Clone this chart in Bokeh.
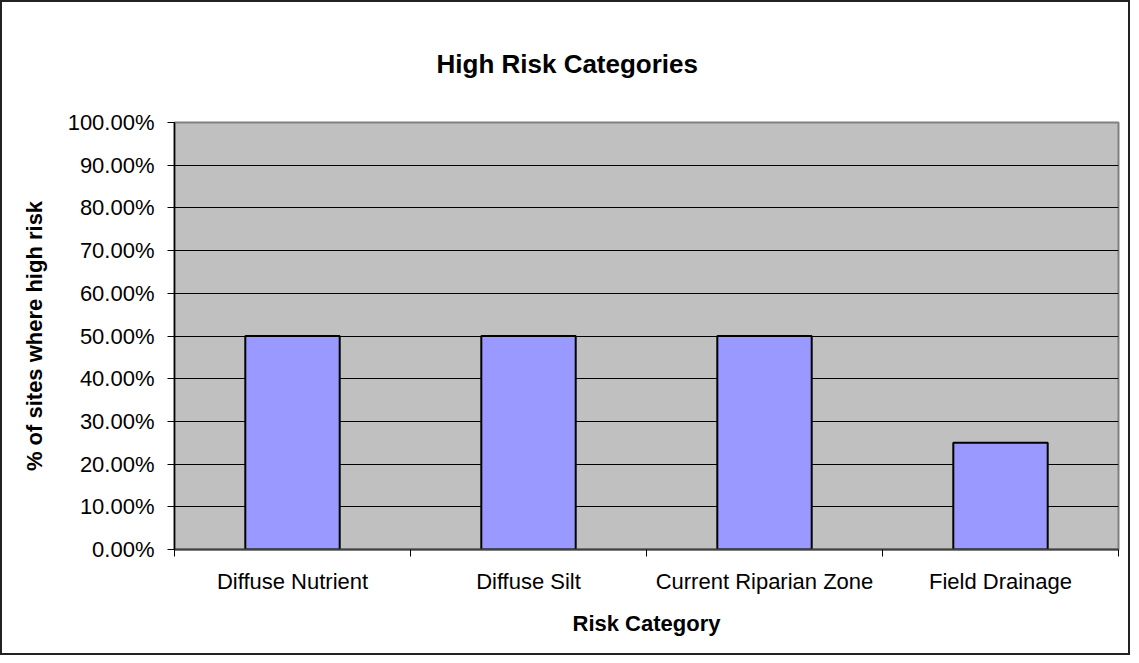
from bokeh.plotting import figure
from bokeh.models import Range1d, FixedTicker, NumeralTickFormatter, Title, ColumnDataSource
from bokeh.embed import file_html
from bokeh.resources import INLINE

categories = ["Diffuse Nutrient", "Diffuse Silt", "Current Riparian Zone", "Field Drainage"]
values = [0.50, 0.50, 0.50, 0.25]
y_ticks = [0.0, 0.1, 0.2, 0.3, 0.4, 0.5, 0.6, 0.7, 0.8, 0.9, 1.0]

FONT = "Liberation Sans"

x_pos = [i + 0.5 for i in range(len(categories))]
src = ColumnDataSource(dict(x=x_pos, top=values, cat=categories))

p = figure(width=1130, height=655, output_backend="svg", toolbar_location=None,
           x_range=Range1d(0, len(categories)), y_range=Range1d(0, 1),
           min_border_left=172, min_border_top=108, min_border_right=14, min_border_bottom=108)

p.background_fill_color = "#C0C0C0"
p.border_fill_color = "white"
p.outline_line_color = "#808080"
p.outline_line_width = 2
p.styles = {"border": "2px solid #222222", "box-sizing": "border-box"}

p.vbar(x="x", top="top", bottom=0, width=0.4, source=src,
       fill_color="#9999FF", line_color="black", line_width=2)

# grid
p.xgrid.visible = False
p.ygrid.ticker = FixedTicker(ticks=y_ticks[1:-1])
p.ygrid.grid_line_color = "black"
p.ygrid.grid_line_width = 1

# y axis
yax = p.yaxis[0]
yax.ticker = FixedTicker(ticks=y_ticks)
yax.formatter = NumeralTickFormatter(format="0.00%")
yax.axis_label = "% of sites where high risk"
yax.axis_label_text_font = FONT
yax.axis_label_text_font_size = "22px"
yax.axis_label_text_font_style = "bold"
yax.axis_label_text_color = "black"
yax.axis_label_standoff = 18
yax.major_label_text_font = FONT
yax.major_label_text_font_size = "22px"
yax.major_label_text_color = "black"
yax.major_label_standoff = 13
yax.major_tick_out = 7
yax.major_tick_in = 0
yax.major_tick_line_color = "black"
yax.minor_tick_line_color = None
yax.axis_line_color = "black"
yax.axis_line_width = 1.5

# x axis
xax = p.xaxis[0]
xax.ticker = FixedTicker(ticks=x_pos, minor_ticks=list(range(len(categories) + 1)))
xax.major_label_overrides = {x: c for x, c in zip(x_pos, categories)}
xax.axis_label = "Risk Category"
xax.axis_label_text_font = FONT
xax.axis_label_text_font_size = "22px"
xax.axis_label_text_font_style = "bold"
xax.axis_label_text_color = "black"
xax.axis_label_standoff = 14
xax.major_label_text_font = FONT
xax.major_label_text_font_size = "22px"
xax.major_label_text_color = "black"
xax.major_label_standoff = 12
xax.major_tick_line_color = None
xax.major_tick_out = 0
xax.major_tick_in = 0
xax.minor_tick_out = 7
xax.minor_tick_in = 0
xax.minor_tick_line_color = "black"
xax.axis_line_color = "#404040"
xax.axis_line_width = 2

title = Title(text="High Risk Categories", align="left", text_font=FONT,
              text_font_size="26px", text_font_style="bold", text_color="black",
              standoff=88, offset=262)
p.add_layout(title, "above")

open("out.html", "w").write(file_html(p, INLINE))
